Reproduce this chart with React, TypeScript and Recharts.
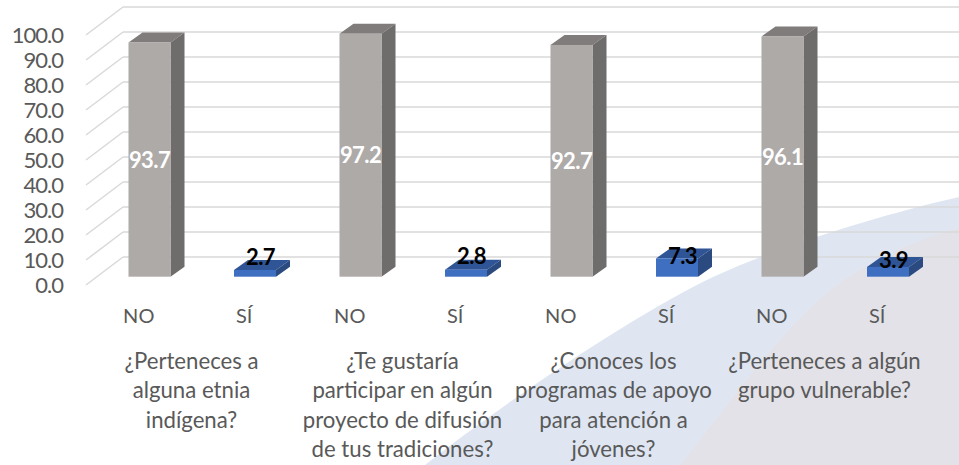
import React from "react";
import { BarChart, Bar, XAxis, YAxis, CartesianGrid, LabelList } from "recharts";

const categories = ["NO", "SÍ", "NO", "SÍ", "NO", "SÍ", "NO", "SÍ"];
const values = [93.7, 2.7, 97.2, 2.8, 92.7, 7.3, 96.1, 3.9];
const questions: string[][] = [
  ["¿Perteneces a", "alguna etnia", "indígena?"],
  ["¿Te gustaría", "participar en algún", "proyecto de difusión", "de tus tradiciones?"],
  ["¿Conoces los", "programas de apoyo", "para atención a", "jóvenes?"],
  ["¿Perteneces a algún", "grupo vulnerable?"],
];
const yTicks = [0, 10, 20, 30, 40, 50, 60, 70, 80, 90, 100];

const table = categories.map((name, i) => ({ id: i, name, value: values[i] }));

const FONT = "Lato, 'Open Sans', sans-serif";
const WALL_DX = 37;
const WALL_DY = 28;
const BAR_DX = 10.5;
const BAR_DY = 8.3;
const DEPTH_DX = 14;
const DEPTH_DY = 10;
const LINE_GAP = 29.3;
const siLabelLift = [12, 13, 13, 9];

const grayFaces = { front: "#aeaaa8", side: "#6f6c6c", top: "#7f7c7b" };
const blueFaces = { front: "#3f6fc1", side: "#2b4a80", top: "#2f5597" };

function GridLine(props: any) {
  const { x1, x2, y1, index } = props;
  const stroke = "#d9d9d9";
  return (
    <g key={`wall-${index}-${y1}`}>
      <line x1={x1} y1={y1} x2={x1 + WALL_DX} y2={y1 - WALL_DY} stroke={stroke} strokeWidth={1.5} />
      <line x1={x1 + WALL_DX} y1={y1 - WALL_DY} x2={x2 + WALL_DX} y2={y1 - WALL_DY} stroke={stroke} strokeWidth={1.5} />
    </g>
  );
}

function Bar3D(props: any) {
  const { x, y, width, height, index } = props;
  const faces = index % 2 === 0 ? grayFaces : blueFaces;
  const l = x + BAR_DX;
  const r = l + width;
  const t = y - BAR_DY;
  const b = t + height;
  return (
    <g>
      <polygon points={`${l},${t} ${r},${t} ${r + DEPTH_DX},${t - DEPTH_DY} ${l + DEPTH_DX},${t - DEPTH_DY}`} fill={faces.top} />
      <polygon points={`${r},${t} ${r + DEPTH_DX},${t - DEPTH_DY} ${r + DEPTH_DX},${b - DEPTH_DY} ${r},${b}`} fill={faces.side} />
      <rect x={l} y={t} width={width} height={height} fill={faces.front} />
    </g>
  );
}

function ValueLabel(props: any) {
  const { x, y, width, height, value, index } = props;
  const isNo = index % 2 === 0;
  const cx = x + BAR_DX + width / 2 + (isNo ? 0 : 5.5);
  const base = y + height - BAR_DY;
  const baseline = isNo ? y - BAR_DY + height / 2 + 8 : base - siLabelLift[(index - 1) / 2];
  return (
    <text
      x={cx}
      y={baseline}
      textAnchor="middle"
      fontFamily={FONT}
      fontWeight={700}
      fontSize={22}
      letterSpacing={-0.6}
      fill={isNo ? "#ffffff" : "#000000"}
    >
      {Number(value).toFixed(1)}
    </text>
  );
}

function CategoryTick(props: any) {
  const { x, payload, index } = props;
  const band = 105.5;
  const lines = index % 2 === 0 ? questions[index / 2] : [];
  return (
    <g fontFamily={FONT} fontSize={22.2} fill="#595959">
      <text x={x} y={323} textAnchor="middle" fontSize={20}>{payload.value}</text>
      {lines.map((line: string, i: number) => (
        <text key={i} x={x + band / 2} y={369 + i * LINE_GAP} textAnchor="middle">{line}</text>
      ))}
    </g>
  );
}

function ValueTick(props: any) {
  const { y, payload } = props;
  return (
    <text x={63} y={y + 8} textAnchor="end" fontFamily={FONT} fontSize={22} letterSpacing={-1} fill="#595959">
      {Number(payload.value).toFixed(1)}
    </text>
  );
}

export default function App() {
  return (
    <div style={{ position: "absolute", left: 0, top: 0, width: 959, height: 465, overflow: "hidden", background: "#ffffff" }}>
      <svg width={959} height={465} style={{ position: "absolute", left: 0, top: 0 }}>
        <path d="M425 465 C 500 405, 640 311, 713 277 C 780 246, 880 215, 959 197 L959 465 Z" fill="#dfe6f2" />
        <path d="M680 465 C 725 410, 780 330, 833 288 C 870 260, 915 240, 959 228 L959 465 Z" fill="#e3e2e8" />
      </svg>
      <div style={{ position: "absolute", left: 0, top: 0 }}>
        <BarChart
          width={959}
          height={465}
          data={table}
          margin={{ top: 35, right: 29, bottom: 140, left: 0 }}
          barSize={42}
        >
          <CartesianGrid vertical={false} horizontal={GridLine as any} />
          <XAxis dataKey="name" type="category" axisLine={false} tickLine={false} interval={0} height={40} tick={CategoryTick as any} />
          <YAxis domain={[0, 100]} ticks={yTicks} width={86} axisLine={false} tickLine={false} interval={0} tick={ValueTick as any} />
          <Bar dataKey="value" isAnimationActive={false} shape={Bar3D as any}>
            <LabelList dataKey="value" content={ValueLabel as any} />
          </Bar>
        </BarChart>
      </div>
    </div>
  );
}
